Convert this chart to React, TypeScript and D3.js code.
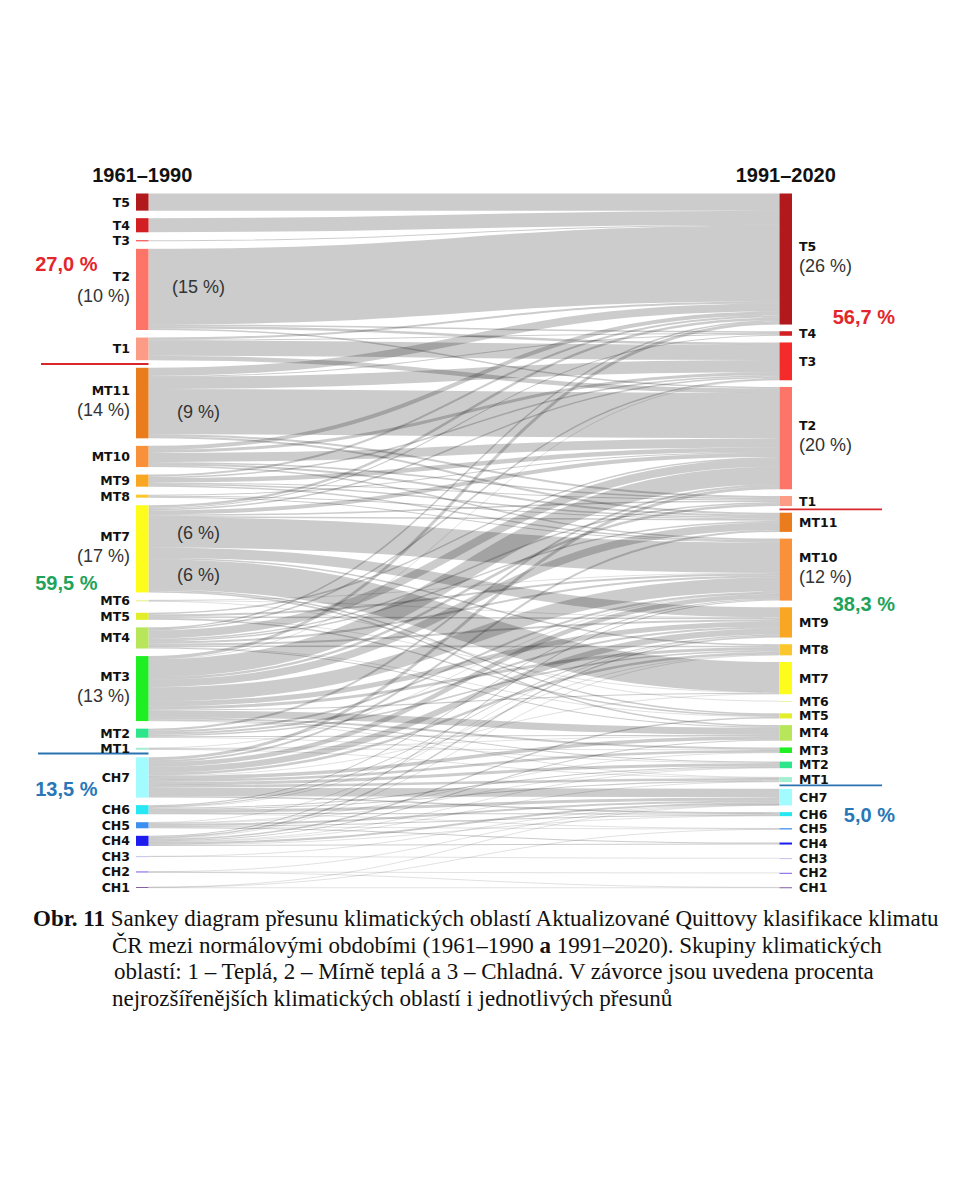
import React, { useMemo } from "react"
import * as d3 from "d3"

const WIDTH = 960
const HEIGHT = 1200

// climate regions of the Quitt classification, warmest at the top
const REGIONS = [
  "T5", "T4", "T3", "T2", "T1",
  "MT11", "MT10", "MT9", "MT8", "MT7", "MT6", "MT5", "MT4", "MT3", "MT2", "MT1",
  "CH7", "CH6", "CH5", "CH4", "CH3", "CH2", "CH1",
]

const REGION_COLORS = [
  "#b2191c", "#d11f22", "#f52a2a", "#fd7468", "#fc9c86",
  "#ea7c1e", "#f8913a", "#f9a623", "#fbc72d", "#fdfc1c", "#eef3a8", "#e2ee27", "#b7e65a", "#1fee23", "#2de58a", "#a3efd2",
  "#a2fbff", "#27e7f3", "#3a8ff0", "#1b1ced", "#c0c0f0", "#7a5be3", "#855ea5",
]

const PERIODS = ["1961–1990", "1991–2020"]

const GROUPS = ["T", "MT", "CH"]
const GROUP_COLORS = ["#e3262b", "#1fa35a", "#2878b8"]

// area share (%) moving from a region in 1961–1990 to a region in 1991–2020
const FLOWS: [string, string, number][] = [
  ["T5", "T5", 3.4],
  ["T4", "T5", 2.8],
  ["T3", "T5", 0.2],
  ["T2", "T5", 15.0], ["T2", "T4", 0.3], ["T2", "T3", 0.5], ["T2", "T2", 0.3],
  ["T1", "T5", 0.4], ["T1", "T4", 0.2], ["T1", "T3", 3.0], ["T1", "T2", 0.9],
  ["MT11", "T5", 1.6], ["MT11", "T4", 0.2], ["MT11", "T3", 2.4], ["MT11", "T2", 9.0], ["MT11", "T1", 0.4], ["MT11", "MT11", 0.4],
  ["MT10", "T5", 0.8], ["MT10", "T3", 0.6], ["MT10", "T2", 1.8], ["MT10", "T1", 0.3], ["MT10", "MT11", 0.4], ["MT10", "MT10", 0.3],
  ["MT9", "T5", 0.4], ["MT9", "T3", 0.3], ["MT9", "T2", 0.9], ["MT9", "T1", 0.2], ["MT9", "MT11", 0.3], ["MT9", "MT10", 0.3],
  ["MT8", "T2", 0.2], ["MT8", "MT11", 0.2], ["MT8", "MT10", 0.2],
  ["MT7", "T5", 0.5], ["MT7", "T4", 0.2], ["MT7", "T3", 0.3], ["MT7", "T2", 0.8], ["MT7", "T1", 0.3], ["MT7", "MT11", 0.3],
  ["MT7", "MT10", 6.0], ["MT7", "MT9", 2.0], ["MT7", "MT8", 0.3], ["MT7", "MT7", 6.0], ["MT7", "MT5", 0.3], ["MT7", "MT4", 0.3],
  ["MT6", "MT10", 0.1], ["MT6", "MT9", 0.1], ["MT6", "MT6", 0.1],
  ["MT5", "T2", 0.3], ["MT5", "MT10", 0.4], ["MT5", "MT9", 0.3], ["MT5", "MT7", 0.1], ["MT5", "MT5", 0.3],
  ["MT4", "T5", 0.3], ["MT4", "T3", 0.3], ["MT4", "T2", 1.6], ["MT4", "T1", 0.3], ["MT4", "MT11", 0.3], ["MT4", "MT10", 0.4],
  ["MT4", "MT9", 0.4], ["MT4", "MT8", 0.3], ["MT4", "MT5", 0.1], ["MT4", "MT4", 0.2],
  ["MT3", "T5", 0.6], ["MT3", "T3", 0.1], ["MT3", "T2", 3.5], ["MT3", "T1", 0.5], ["MT3", "MT11", 1.5], ["MT3", "MT10", 2.8],
  ["MT3", "MT9", 1.0], ["MT3", "MT8", 0.6], ["MT3", "MT7", 0.2], ["MT3", "MT4", 1.4], ["MT3", "MT3", 0.4], ["MT3", "MT2", 0.2], ["MT3", "MT1", 0.1],
  ["MT2", "T2", 0.4], ["MT2", "MT10", 0.4], ["MT2", "MT9", 0.4], ["MT2", "MT8", 0.3], ["MT2", "MT4", 0.2], ["MT2", "MT2", 0.1],
  ["MT1", "MT10", 0.1], ["MT1", "MT4", 0.1], ["MT1", "MT3", 0.1], ["MT1", "MT1", 0.1],
  ["CH7", "T2", 0.6], ["CH7", "MT11", 0.4], ["CH7", "MT10", 0.9], ["CH7", "MT9", 1.2], ["CH7", "MT8", 0.5], ["CH7", "MT7", 0.1],
  ["CH7", "MT4", 0.7], ["CH7", "MT3", 0.5], ["CH7", "MT2", 0.6], ["CH7", "MT1", 0.5], ["CH7", "CH7", 1.7], ["CH7", "CH6", 0.3],
  ["CH6", "MT10", 0.2], ["CH6", "MT9", 0.2], ["CH6", "MT8", 0.1], ["CH6", "MT2", 0.2], ["CH6", "MT1", 0.2], ["CH6", "CH7", 0.6],
  ["CH6", "CH6", 0.2], ["CH6", "CH5", 0.1],
  ["CH5", "MT9", 0.1], ["CH5", "MT3", 0.1], ["CH5", "MT2", 0.1], ["CH5", "CH7", 0.4], ["CH5", "CH6", 0.2], ["CH5", "CH5", 0.1], ["CH5", "CH4", 0.2],
  ["CH4", "MT10", 0.2], ["CH4", "MT9", 0.3], ["CH4", "MT8", 0.1], ["CH4", "MT5", 0.3], ["CH4", "MT4", 0.2], ["CH4", "MT2", 0.1],
  ["CH4", "MT1", 0.1], ["CH4", "CH7", 0.4], ["CH4", "CH6", 0.1], ["CH4", "CH4", 0.2],
  ["CH3", "CH7", 0.05], ["CH3", "CH3", 0.05],
  ["CH2", "CH7", 0.1], ["CH2", "CH2", 0.05], ["CH2", "CH1", 0.05],
  ["CH1", "CH7", 0.05], ["CH1", "CH5", 0.05], ["CH1", "CH1", 0.1],
]

// shares printed under the names of the largest regions
const LEFT_SHARES: [string, string][] = [["T2", "(10 %)"], ["MT11", "(14 %)"], ["MT7", "(17 %)"], ["MT3", "(13 %)"]]
const RIGHT_SHARES: [string, string][] = [["T5", "(26 %)"], ["T2", "(20 %)"], ["MT10", "(12 %)"]]

// the largest single moves get their share written on the band
const LABELLED_FLOWS: [string, string][] = [["T2", "T5"], ["MT11", "T2"], ["MT7", "MT10"], ["MT7", "MT7"]]

// group totals: column, group, node they sit next to, which edge of it, offset
const GROUP_NOTES: [number, string, string, "mid" | "bottom", number][] = [
  [0, "T", "T2", "mid", -18],
  [0, "MT", "MT7", "bottom", -2],
  [0, "CH", "CH7", "mid", 19],
  [1, "T", "T5", "bottom", -1],
  [1, "MT", "MT10", "bottom", 10],
  [1, "CH", "CH6", "mid", 8],
]

const CAPTION: { text: string; bold?: boolean }[][] = [
  [{ text: "Obr. 11", bold: true }, { text: " Sankey diagram přesunu klimatických oblastí Aktualizované Quittovy klasifikace klimatu" }],
  [{ text: "ČR mezi normálovými obdobími (1961–1990 " }, { text: "a", bold: true }, { text: " 1991–2020). Skupiny klimatických" }],
  [{ text: "oblastí: 1 – Teplá, 2 – Mírně teplá a 3 – Chladná. V závorce jsou uvedena procenta" }],
  [{ text: "nejrozšířenějších klimatických oblastí i jednotlivých přesunů" }],
]

const NODE_W = 12.5
const X_LEFT = 136
const X_RIGHT = 779.5
const TOP = 193.5
const BOTTOM = 888
const NODE_PAD = 5.5
const LABEL_GAP = 13.5

const SANS = "'Liberation Sans', Arial, Helvetica, sans-serif"
const LABEL_FONT = "'DejaVu Sans', Verdana, sans-serif"
const SERIF = "'Liberation Serif', 'Times New Roman', serif"

const groupOf = (r: string) => r.replace(/\d+/, "")
const fmtPct = (v: number) => `${v.toFixed(1).replace(".", ",")} %`

interface NodeBox {
  name: string
  value: number
  y0: number
  y1: number
}

interface LinkBox {
  s: number
  t: number
  value: number
  w: number
  sy: number
  ty: number
}

export default function App() {
  const valueScale = useMemo(() => d3.scaleLinear().domain([0, 100]).range([0, 504]), [])

  const { left, right, links } = useMemo(() => {
    const idx = new Map(REGIONS.map((r, i) => [r, i]))
    const outTotals = d3.rollup(FLOWS, (v) => d3.sum(v, (d) => d[2]), (d) => d[0])
    const inTotals = d3.rollup(FLOWS, (v) => d3.sum(v, (d) => d[2]), (d) => d[1])

    // stack the bars top to bottom; tiny regions get enough room for their label,
    // leftover height is shared out evenly between all gaps
    const stack = (totals: Map<string, number>): NodeBox[] => {
      const vals = REGIONS.map((r) => totals.get(r) ?? 0)
      const h = vals.map((v) => valueScale(v))
      const gaps = d3.range(h.length - 1).map((i) => Math.max(NODE_PAD, LABEL_GAP - (h[i] + h[i + 1]) / 2))
      const extra = (BOTTOM - TOP - d3.sum(h) - d3.sum(gaps)) / gaps.length
      let y = TOP
      return REGIONS.map((name, i) => {
        const y0 = y
        y += h[i] + (i < gaps.length ? gaps[i] + extra : 0)
        return { name, value: vals[i], y0, y1: y0 + h[i] }
      })
    }

    const left = stack(outTotals)
    const right = stack(inTotals)

    const links: LinkBox[] = FLOWS.map(([s, t, v]) => ({
      s: idx.get(s)!,
      t: idx.get(t)!,
      value: v,
      w: valueScale(v),
      sy: 0,
      ty: 0,
    }))

    REGIONS.forEach((_, i) => {
      let y = left[i].y0
      links
        .filter((l) => l.s === i)
        .sort((a, b) => a.t - b.t)
        .forEach((l) => {
          l.sy = y + l.w / 2
          y += l.w
        })
      y = right[i].y0
      links
        .filter((l) => l.t === i)
        .sort((a, b) => a.s - b.s)
        .forEach((l) => {
          l.ty = y + l.w / 2
          y += l.w
        })
    })

    return { left, right, links }
  }, [valueScale])

  const linkPath = d3
    .linkHorizontal<{ source: [number, number]; target: [number, number] }, [number, number]>()
    .source((d) => d.source)
    .target((d) => d.target)

  const nodeByName = (col: NodeBox[], name: string) => col[REGIONS.indexOf(name)]
  const mid = (n: NodeBox) => (n.y0 + n.y1) / 2

  // boundary between two groups, halfway across the gap
  const boundary = (col: NodeBox[], above: string, below: string) =>
    (nodeByName(col, above).y1 + nodeByName(col, below).y0) / 2

  const groupTotal = (col: NodeBox[], g: string) => d3.sum(col.filter((n) => groupOf(n.name) === g), (n) => n.value)

  const xLeftEdge = X_LEFT + NODE_W

  return (
    <svg
      width={WIDTH}
      height={HEIGHT}
      viewBox={`0 0 ${WIDTH} ${HEIGHT}`}
      style={{ position: "absolute", left: 0, top: 0, background: "#fff" }}
    >
      <rect width={WIDTH} height={HEIGHT} fill="#fff" />

      {/* bands */}
      <g fill="none" stroke="#000" strokeOpacity={0.2}>
        {links.map((l, i) => (
          <path
            key={i}
            d={linkPath({ source: [xLeftEdge, l.sy], target: [X_RIGHT, l.ty] }) ?? ""}
            strokeWidth={Math.max(l.w, 0.6)}
          />
        ))}
      </g>

      {/* region bars */}
      {[left, right].map((col, c) => (
        <g key={c}>
          {col.map((n, i) => (
            <rect
              key={n.name}
              x={c === 0 ? X_LEFT : X_RIGHT}
              y={n.y0}
              width={NODE_W}
              height={Math.max(n.y1 - n.y0, 1)}
              fill={REGION_COLORS[i]}
            />
          ))}
        </g>
      ))}

      {/* group boundaries */}
      <g strokeWidth={1.8}>
        <line x1={41} x2={xLeftEdge} y1={boundary(left, "T1", "MT11")} y2={boundary(left, "T1", "MT11")} stroke="#d9262b" />
        <line x1={38} x2={xLeftEdge} y1={boundary(left, "MT1", "CH7")} y2={boundary(left, "MT1", "CH7")} stroke="#2a72b0" />
        <line x1={X_RIGHT} x2={882} y1={boundary(right, "T1", "MT11")} y2={boundary(right, "T1", "MT11")} stroke="#d9262b" />
        <line x1={X_RIGHT} x2={882} y1={boundary(right, "MT1", "CH7")} y2={boundary(right, "MT1", "CH7")} stroke="#2a72b0" />
      </g>

      {/* period headings */}
      {PERIODS.map((p, i) => (
        <text
          key={p}
          x={(i === 0 ? X_LEFT : X_RIGHT) + NODE_W / 2}
          y={182}
          textAnchor="middle"
          fontFamily={SANS}
          fontWeight="bold"
          fontSize={20}
          fill="#111"
        >
          {p}
        </text>
      ))}

      {/* region names */}
      {[left, right].map((col, c) => {
        const shares = new Map(c === 0 ? LEFT_SHARES : RIGHT_SHARES)
        const x = c === 0 ? 130 : 799
        const anchor = c === 0 ? "end" : "start"
        return (
          <g key={c} textAnchor={anchor}>
            {col.map((n) => {
              const share = shares.get(n.name)
              const cy = mid(n)
              return (
                <g key={n.name}>
                  <text
                    x={x}
                    y={share ? cy - 8 : cy}
                    dy={share ? 0 : "0.36em"}
                    fontFamily={LABEL_FONT}
                    fontWeight="bold"
                    fontSize={12.5}
                    fill="#111"
                  >
                    {n.name}
                  </text>
                  {share && (
                    <text x={x} y={cy + 13} fontFamily={SANS} fontSize={18} fill="#333">
                      {share}
                    </text>
                  )}
                </g>
              )
            })}
          </g>
        )
      })}

      {/* shares of the largest moves */}
      {LABELLED_FLOWS.map(([s, t]) => {
        const l = links.find((k) => REGIONS[k.s] === s && REGIONS[k.t] === t)!
        return (
          <text
            key={`${s}-${t}`}
            x={xLeftEdge + 50}
            y={l.sy}
            dy="0.36em"
            textAnchor="middle"
            fontFamily={SANS}
            fontSize={18}
            fill="#333"
          >
            {`(${Math.round(l.value)} %)`}
          </text>
        )
      })}

      {/* group totals */}
      {GROUP_NOTES.map(([c, g, node, edge, dy]) => {
        const col = c === 0 ? left : right
        const n = nodeByName(col, node)
        const y = (edge === "mid" ? mid(n) : n.y1) + dy
        return (
          <text
            key={`${c}-${g}`}
            x={c === 0 ? 97.5 : 895}
            y={y}
            textAnchor="end"
            fontFamily={SANS}
            fontWeight="bold"
            fontSize={20}
            fill={GROUP_COLORS[GROUPS.indexOf(g)]}
          >
            {fmtPct(groupTotal(col, g))}
          </text>
        )
      })}

      {/* caption */}
      <g fontFamily={SERIF} fontSize={23} fill="#111">
        {CAPTION.map((line, i) => (
          <text key={i} x={i === 0 ? 33 : i === 2 ? 114 : 112} y={926 + i * 26.5}>
            {line.map((part, j) => (
              <tspan key={j} fontWeight={part.bold ? "bold" : "normal"}>
                {part.text}
              </tspan>
            ))}
          </text>
        ))}
      </g>
    </svg>
  )
}
